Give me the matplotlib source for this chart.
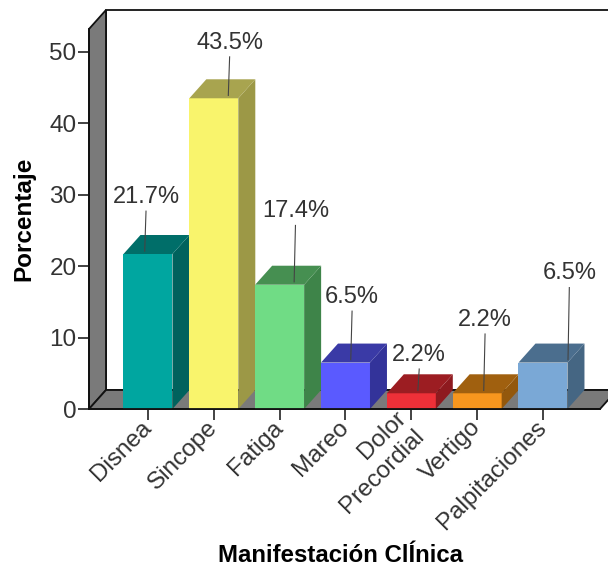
import matplotlib.pyplot as plt
from matplotlib.patches import Polygon, Rectangle

plt.rcParams['font.family'] = ['Liberation Sans', 'DejaVu Sans']

categories = ['Disnea', 'Sincope', 'Fatiga', 'Mareo', 'Dolor\nPrecordial', 'Vertigo', 'Palpitaciones']
percent = [21.7, 43.5, 17.4, 6.5, 2.2, 2.2, 6.5]
value_labels = ['21.7%', '43.5%', '17.4%', '6.5%', '2.2%', '2.2%', '6.5%']
front_colors = ['#00a6a0', '#f9f46c', '#70dc85', '#5a5aff', '#ee3038', '#f7961e', '#7aa8d6']
top_colors = ['#006e69', '#a8a44f', '#468f51', '#3a3aa6', '#9c1d22', '#a0600f', '#4b6e8e']
side_colors = ['#00625d', '#9c9846', '#3e8449', '#33339a', '#8e1a1f', '#93580d', '#456683']

# where SPSS put the value labels (offset from bar centre, label height in %)
label_dx = [-0.03, 0.24, 0.24, 0.10, 0.12, 0.12, 0.40]
label_y = [29.7, 51.3, 27.7, 15.7, 7.6, 12.5, 19.0]

# 3d look
half_w = 0.372
dx, dy = 0.258, 2.66
x0, x1 = -0.896, 6.866
wall_h = 53.2
edge = '#111111'

fig = plt.figure(figsize=(6.08, 5.67), dpi=100)
ax = fig.add_axes([89 / 608, 1 - 409 / 567, 511 / 608, 380 / 567])
ax.set_xlim(x0, x1)
ax.set_ylim(0, wall_h)
ax.patch.set_visible(False)

# walls and floor
back = Rectangle((x0 + dx, dy), x1 - x0, wall_h, facecolor='white', edgecolor=edge,
                 lw=1.3, clip_on=False, zorder=0)
left = Polygon([(x0, 0), (x0 + dx, dy), (x0 + dx, wall_h + dy), (x0, wall_h)],
               facecolor='#7a7a7a', edgecolor=edge, lw=1.3, clip_on=False, zorder=1)
floor = Polygon([(x0, 0), (x1, 0), (x1 + dx, dy), (x0 + dx, dy)],
                facecolor='#7a7a7a', edgecolor=edge, lw=1.3, clip_on=False, zorder=1)
for p in (back, left, floor):
    ax.add_patch(p)

# bars
for i, v in enumerate(percent):
    l, r = i - half_w, i + half_w
    ax.add_patch(Rectangle((l, 0), 2 * half_w, v, facecolor=front_colors[i],
                           edgecolor='none', zorder=2, clip_on=False))
    ax.add_patch(Polygon([(r, 0), (r + dx, dy), (r + dx, v + dy), (r, v)],
                         facecolor=side_colors[i], edgecolor='none', zorder=2, clip_on=False))
    ax.add_patch(Polygon([(l, v), (r, v), (r + dx, v + dy), (l + dx, v + dy)],
                         facecolor=top_colors[i], edgecolor='none', zorder=2, clip_on=False))

    tx = i + label_dx[i]
    ax.text(tx, label_y[i], value_labels[i], ha='center', va='center',
            fontsize=17, color='#333333', zorder=4)
    ax.plot([tx, tx - 0.02], [label_y[i] - 2.0, v + 0.4], color='#444444', lw=0.8,
            zorder=3, clip_on=False)

ax.spines['top'].set_visible(False)
ax.spines['right'].set_visible(False)
for s in ('left', 'bottom'):
    ax.spines[s].set_linewidth(1.3)
    ax.spines[s].set_color(edge)
    ax.spines[s].set_zorder(5)

ax.set_yticks([0, 10, 20, 30, 40, 50])
ax.set_xticks(range(len(categories)))
ax.set_xticklabels(categories, rotation=45, ha='right', va='center', rotation_mode='anchor')
ax.tick_params(axis='both', length=8, width=1.2, color='#222222', labelsize=17.5,
               labelcolor='#333333')
ax.tick_params(axis='y', pad=1)
ax.tick_params(axis='x', pad=3)

ax.set_ylabel('Porcentaje', fontsize=17.5, fontweight='bold')
ax.yaxis.set_label_coords(-0.105, 0.5)
ax.set_xlabel('Manifestación ClÍnica', fontsize=17.3, fontweight='bold')
ax.xaxis.set_label_coords(0.493, -0.355)

fig.savefig('out.png', dpi=100)
